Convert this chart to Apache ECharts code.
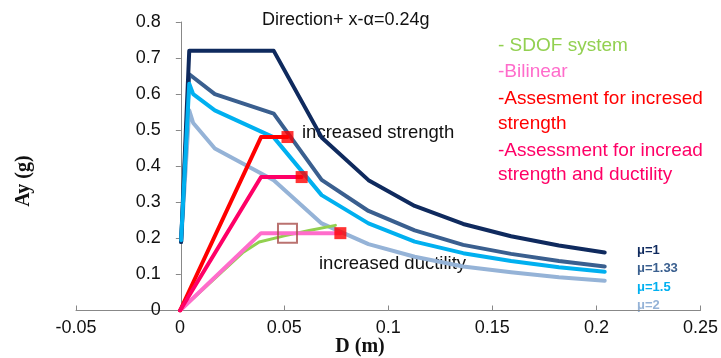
<!DOCTYPE html>
<html>
<head>
<meta charset="utf-8">
<script src="https://cdn.jsdelivr.net/npm/echarts@6/dist/echarts.min.js"></script>
<style>
  html, body { margin: 0; padding: 0; background: #ffffff; }
  #chart { width: 721px; height: 358px; }
</style>
</head>
<body>
<div id="chart"></div>
<script>
// Demand spectra (Ay vs D) for each ductility level
const muNames = ['μ=1', 'μ=1.33', 'μ=1.5', 'μ=2'];

const mu1D = [0.0005, 0.0044, 0.045, 0.068, 0.0905, 0.1127, 0.136, 0.159, 0.182, 0.204];
const mu1A = [0.19, 0.72, 0.72, 0.48, 0.3615, 0.29, 0.24, 0.206, 0.18, 0.161];

const mu133D = [0.0005, 0.0044, 0.0167, 0.045, 0.068, 0.0905, 0.1127, 0.136, 0.159, 0.182, 0.204];
const mu133A = [0.19, 0.655, 0.60, 0.546, 0.362, 0.276, 0.222, 0.182, 0.157, 0.137, 0.122];

const mu15D = [0.0005, 0.0044, 0.0063, 0.0167, 0.045, 0.068, 0.0905, 0.1127, 0.136, 0.159, 0.182, 0.204];
const mu15A = [0.195, 0.629, 0.60, 0.555, 0.48, 0.32, 0.2415, 0.191, 0.159, 0.137, 0.12, 0.1075];

const mu2D = [0.0005, 0.0044, 0.0063, 0.0167, 0.045, 0.068, 0.0905, 0.1127, 0.136, 0.159, 0.182, 0.204];
const mu2A = [0.19, 0.555, 0.52, 0.449, 0.361, 0.2415, 0.184, 0.149, 0.122, 0.106, 0.092, 0.0826];

// SDOF capacity curve and its bilinear idealisation
const sdofD = [0, 0.03, 0.038, 0.05, 0.062, 0.0746];
const sdofA = [0, 0.16, 0.19, 0.207, 0.222, 0.236];

const bilinD = [0, 0.0389, 0.077];
const bilinA = [0, 0.2145, 0.2145];

// Retrofit assessments
const strengthD = [0, 0.0389, 0.0516];
const strengthA = [0, 0.481, 0.481];

const ductD = [0, 0.0389, 0.0584];
const ductA = [0, 0.37, 0.37];

// Performance point of the existing system
const perfD = [0.0516];
const perfA = [0.2145];

// Axis ticks
const xTicks = { min: -0.05, max: 0.25, step: 0.05 };
const yTicks = { min: 0, max: 0.8, step: 0.1 };

const muColors = ['#0f2a5e', '#3a5f8f', '#00b0f0', '#95b3d7'];

function pairs(xs, ys) { return xs.map((x, i) => [x, ys[i]]); }
function fmt(v) { return String(Math.round(v * 100) / 100); }

const FONT = '"Liberation Sans", Arial, sans-serif';
const SERIF = '"Liberation Serif", "Times New Roman", serif';

function curve(name, xs, ys, color, width, z) {
  return {
    name: name, type: 'line', data: pairs(xs, ys),
    showSymbol: false, symbol: 'none', smooth: false,
    lineStyle: { color: color, width: width, join: 'round', cap: 'round' },
    z: z, animation: false
  };
}

// Red square at the end of each assessment path
const endPoints = [
  [strengthD[strengthD.length - 1], strengthA[strengthA.length - 1]],
  [ductD[ductD.length - 1], ductA[ductA.length - 1]],
  [bilinD[bilinD.length - 1], bilinA[bilinA.length - 1]]
];

const GRID = { left: 76, right: 16, top: 22, bottom: 47.5 };
const PLOT_W = 721 - GRID.left - GRID.right;
// the vertical axis sits at D = 0
const yAxisShift = -PLOT_W * (0 - xTicks.min) / (xTicks.max - xTicks.min);

const chart = echarts.init(document.getElementById('chart'), null, { renderer: 'canvas' });

const option = {
  backgroundColor: '#ffffff',
  animation: false,
  grid: { left: GRID.left, right: GRID.right, top: GRID.top, bottom: GRID.bottom, containLabel: false },
  xAxis: {
    type: 'value', min: xTicks.min, max: xTicks.max, interval: xTicks.step,
    axisLine: { show: true, onZero: true, lineStyle: { color: '#888888', width: 1 } },
    axisTick: { show: true, inside: true, length: 5, lineStyle: { color: '#888888' } },
    splitLine: { show: false },
    axisLabel: { formatter: fmt, color: '#111111', fontFamily: FONT, fontSize: 18, margin: 9 }
  },
  yAxis: {
    type: 'value', min: yTicks.min, max: yTicks.max, interval: yTicks.step,
    offset: yAxisShift,
    axisLine: { show: true, onZero: false, lineStyle: { color: '#888888', width: 1 } },
    axisTick: { show: true, inside: false, length: 5, lineStyle: { color: '#888888' } },
    splitLine: { show: false },
    axisLabel: { formatter: fmt, color: '#111111', fontFamily: FONT, fontSize: 18, margin: 20 }
  },
  series: [
    curve(muNames[3], mu2D, mu2A, muColors[3], 4, 2),
    curve(muNames[2], mu15D, mu15A, muColors[2], 4, 3),
    curve(muNames[1], mu133D, mu133A, muColors[1], 4, 2),
    curve(muNames[0], mu1D, mu1A, muColors[0], 4, 2),
    curve('SDOF system', sdofD, sdofA, '#92d050', 3, 4),
    curve('Bilinear', bilinD, bilinA, '#ff6ccb', 4, 5),
    curve('Assesment for incresed strength', strengthD, strengthA, '#ff0000', 4, 5),
    curve('Assessment for incread strength and ductility', ductD, ductA, '#ff0066', 4, 5),
    {
      name: 'end points', type: 'scatter', data: endPoints,
      symbol: 'rect', symbolSize: 12,
      itemStyle: { color: '#ff0000' }, z: 7, animation: false
    },
    {
      name: 'performance point', type: 'scatter', data: pairs(perfD, perfA),
      symbol: 'rect', symbolSize: 19,
      itemStyle: { color: 'rgba(0,0,0,0)', borderColor: '#a94f4c', borderWidth: 2 },
      z: 8, animation: false
    }
  ],
  graphic: [
    { type: 'text', style: { text: 'Direction+ x-α=0.24g', x: 262, y: 20, font: '18px ' + FONT, fill: '#111111', textVerticalAlign: 'middle' } },
    { type: 'text', style: { text: 'increased strength', x: 302, y: 133, font: '18.5px ' + FONT, fill: '#111111', textVerticalAlign: 'middle' } },
    { type: 'text', style: { text: 'increased ductility', x: 319, y: 264, font: '18.5px ' + FONT, fill: '#111111', textVerticalAlign: 'middle' } },

    { type: 'text', style: { text: '- SDOF system', x: 498, y: 46, font: '19px ' + FONT, fill: '#92d050', textVerticalAlign: 'middle' } },
    { type: 'text', style: { text: '-Bilinear', x: 498, y: 72, font: '19px ' + FONT, fill: '#ff6ccb', textVerticalAlign: 'middle' } },
    { type: 'text', style: { text: '-Assesment for incresed', x: 498, y: 99, font: '19px ' + FONT, fill: '#ff0000', textVerticalAlign: 'middle' } },
    { type: 'text', style: { text: 'strength', x: 498, y: 124, font: '19px ' + FONT, fill: '#ff0000', textVerticalAlign: 'middle' } },
    { type: 'text', style: { text: '-Assessment for incread', x: 498, y: 151, font: '19px ' + FONT, fill: '#ff0066', textVerticalAlign: 'middle' } },
    { type: 'text', style: { text: 'strength and ductility', x: 498, y: 175, font: '19px ' + FONT, fill: '#ff0066', textVerticalAlign: 'middle' } },

    { type: 'text', style: { text: muNames[0], x: 637, y: 250, font: 'bold 13px ' + FONT, fill: muColors[0], textVerticalAlign: 'middle' } },
    { type: 'text', style: { text: muNames[1], x: 637, y: 268, font: 'bold 13px ' + FONT, fill: muColors[1], textVerticalAlign: 'middle' } },
    { type: 'text', style: { text: muNames[2], x: 637, y: 287, font: 'bold 13px ' + FONT, fill: muColors[2], textVerticalAlign: 'middle' } },
    { type: 'text', style: { text: muNames[3], x: 637, y: 305, font: 'bold 13px ' + FONT, fill: muColors[3], textVerticalAlign: 'middle' } },

    { type: 'text', style: { text: 'D (m)', x: 360, y: 347, font: 'bold 20px ' + SERIF, fill: '#111111', textAlign: 'center', textVerticalAlign: 'middle' } },
    { type: 'text', x: 24, y: 181, rotation: Math.PI / 2, style: { text: 'Ay (g)', x: 0, y: 0, font: 'bold 20px ' + SERIF, fill: '#111111', textAlign: 'center', textVerticalAlign: 'middle' } }
  ]
};

chart.setOption(option);
</script>
</body>
</html>
